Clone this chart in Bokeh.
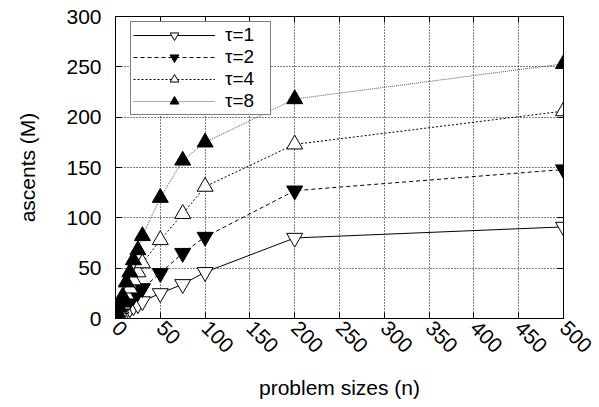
import math
from bokeh.plotting import figure
from bokeh.models import LinearAxis, Range1d, Legend, LegendItem, FixedTicker, CustomJSTickFormatter
from bokeh.embed import file_html
from bokeh.resources import INLINE

n = [1, 2, 4, 6, 8, 12, 16, 20, 25, 30, 50, 75, 100, 200, 500]
tau1 = [1, 2, 3, 4, 5, 8, 10, 12, 14, 17, 25, 34, 46, 80, 91]
tau2 = [1, 3, 5, 7, 9, 14, 18, 22, 26, 30, 45, 65, 81, 127, 148]
tau4 = [2, 4, 7, 10, 14, 24, 30, 38, 46, 55, 78, 104, 131, 173, 206]
tau8 = [3, 6, 11, 16, 22, 36, 46, 58, 68, 82, 120, 157, 175, 218, 253]
labels = ["τ=1", "τ=2", "τ=4", "τ=8"]
x_ticks = [0, 50, 100, 150, 200, 250, 300, 350, 400, 450, 500]
y_ticks = [0, 50, 100, 150, 200, 250, 300]

FONT = "Liberation Sans"
FS = "21px"

p = figure(width=599, height=407, output_backend="svg", toolbar_location=None,
           x_range=Range1d(0, 500), y_range=Range1d(0, 300),
           min_border_left=115, min_border_right=36, min_border_top=16, min_border_bottom=89)
p.background_fill_color = "white"
p.border_fill_color = "white"
p.outline_line_color = "black"
p.outline_line_width = 1

for ax in (p.xaxis[0], p.yaxis[0]):
    ax.major_tick_in = 6
    ax.major_tick_out = 0
    ax.minor_tick_in = 0
    ax.minor_tick_out = 0
    ax.axis_line_color = "black"
    ax.major_label_text_font = FONT
    ax.major_label_text_font_size = FS
    ax.major_label_text_color = "black"
    ax.axis_label_text_font = FONT
    ax.axis_label_text_font_size = FS
    ax.axis_label_text_font_style = "normal"
    ax.axis_label_text_color = "black"

p.xaxis[0].ticker = FixedTicker(ticks=x_ticks)
p.yaxis[0].ticker = FixedTicker(ticks=y_ticks)
p.xaxis[0].major_label_orientation = -math.pi / 4
p.xaxis[0].axis_label = "problem sizes (n)"
p.yaxis[0].axis_label = "ascents (M)"
p.xaxis[0].major_label_standoff = 6
p.yaxis[0].major_label_standoff = 14
p.xaxis[0].axis_label_standoff = 14
p.yaxis[0].axis_label_standoff = 24

# mirrored ticks on top and right
blank = CustomJSTickFormatter(code="return ''")
top = LinearAxis(ticker=FixedTicker(ticks=x_ticks), major_tick_in=6, major_tick_out=0,
                 minor_tick_in=0, minor_tick_out=0, formatter=blank,
                 major_label_standoff=0, major_label_text_font_size="1px")
right = LinearAxis(ticker=FixedTicker(ticks=y_ticks), major_tick_in=6, major_tick_out=0,
                   minor_tick_in=0, minor_tick_out=0, formatter=blank,
                   major_label_standoff=0, major_label_text_font_size="1px")
p.add_layout(top, "above")
p.add_layout(right, "right")

p.xgrid.ticker = FixedTicker(ticks=x_ticks)
p.ygrid.ticker = FixedTicker(ticks=y_ticks)
for g in (p.xgrid[0], p.ygrid[0]):
    g.grid_line_color = "black"
    g.grid_line_dash = "1 2"
    g.grid_line_width = 1

series = [
    (tau1, "solid", "black", "inverted_triangle", "white"),
    (tau2, "4 3", "black", "inverted_triangle", "black"),
    (tau4, "2 2", "black", "triangle", "white"),
    (tau8, "1 1", "#555555", "triangle", "black"),
]
items = []
for (vals, dash, lc, marker, fill), lab in zip(series, labels):
    r1 = p.line(n, vals, line_color=lc, line_dash=dash, line_width=1)
    r2 = p.scatter(n, vals, marker=marker, size=16, fill_color=fill,
                   line_color="black", line_width=1)
    items.append(LegendItem(label=lab, renderers=[r1, r2]))

leg = Legend(items=items, location=(15, 203))
leg.label_text_font = FONT
leg.label_text_font_size = "19px"
leg.label_text_color = "black"
leg.glyph_width = 82
leg.glyph_height = 22
leg.label_height = 22
leg.label_width = 43
leg.spacing = 0
leg.padding = 2
leg.margin = 0
leg.border_line_color = "black"
leg.border_line_width = 1
leg.background_fill_alpha = 1
leg.label_standoff = 10
p.add_layout(leg)

open("out.html", "w").write(file_html(p, INLINE))
